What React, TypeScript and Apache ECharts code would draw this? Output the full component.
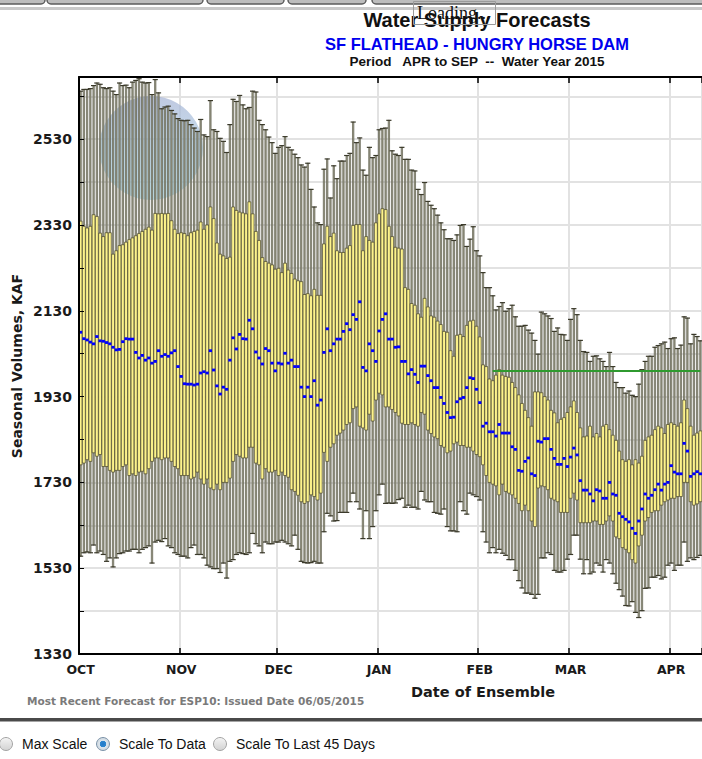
import React, { useEffect, useRef } from "react";
import * as echarts from "echarts";

// ---------- categories (one ensemble per day, Oct 1 2014 .. Apr 10 2015) ----------
const firstDayUTC = Date.UTC(2014, 9, 1);
const dayCount = 192;
const dates: string[] = [];
for (let i = 0; i < dayCount; i++) {
  dates.push(new Date(firstDayUTC + i * 86400000).toISOString().slice(0, 10));
}
const monthNames = ["JAN", "FEB", "MAR", "APR", "MAY", "JUN", "JUL", "AUG", "SEP", "OCT", "NOV", "DEC"];

// ---------- series values (KAF) ----------
const whiskerHigh = [
  2642, 2646, 2646, 2648, 2655, 2661, 2658, 2650, 2648, 2650,
  2642, 2634, 2661, 2655, 2656, 2650, 2663, 2667, 2671, 2663,
  2661, 2662, 2634, 2669, 2638, 2601, 2605, 2607, 2597, 2589,
  2578, 2574, 2573, 2574, 2564, 2556, 2548, 2576, 2540, 2536,
  2620, 2552, 2548, 2532, 2525, 2499, 2564, 2623,
  2618, 2632, 2610, 2601, 2604, 2642, 2640, 2574, 2564, 2552,
  2535, 2522, 2497, 2511, 2515, 2536, 2511, 2505, 2495, 2487,
  2470, 2465, 2474, 2413, 2372, 2335, 2331, 2460, 2484, 2393,
  2468, 2438, 2479, 2479, 2492, 2497, 2570, 2522, 2533, 2458,
  2446, 2511, 2487, 2492, 2552, 2555, 2556, 2574,
  2503, 2495, 2492, 2511, 2483, 2483, 2458, 2456, 2413, 2401,
  2429, 2385, 2376, 2368, 2353, 2335, 2319, 2298, 2298, 2294,
  2307, 2329, 2331, 2280, 2297, 2326, 2270, 2258, 2219, 2184,
  2184, 2165, 2132, 2140, 2149, 2129, 2135, 2143, 2116, 2094,
  2094, 2096, 2085, 2078, 2061, 2029, 2127, 2123,
  2118, 2112, 2082, 2090, 2075, 2074, 2061, 2110, 2135, 2121,
  2061, 2035, 2033, 2012, 2024, 2025, 2018, 2012, 2000, 2033,
  2000, 1963, 1951, 1951, 1938, 1943, 1933, 1930, 1959, 1993,
  2012, 2024, 2024, 2045, 2049, 2053, 2057, 2042, 2065, 2067,
  2042, 2050, 2116, 2113, 2053, 2075, 2070, 2060,
];

const whiskerLow = [
  1558, 1566, 1568, 1566, 1584, 1566, 1570, 1562, 1546, 1554,
  1533, 1554, 1564, 1566, 1570, 1570, 1574, 1574, 1566, 1574,
  1578, 1582, 1542, 1591, 1595, 1592, 1599, 1582, 1578, 1566,
  1562, 1558, 1558, 1554, 1578, 1584, 1562, 1562, 1554, 1537,
  1533, 1529, 1529, 1520, 1542, 1507, 1546, 1550,
  1562, 1566, 1564, 1562, 1566, 1611, 1587, 1582, 1566, 1591,
  1587, 1587, 1591, 1591, 1595, 1591, 1587, 1582, 1607, 1574,
  1546, 1543, 1542, 1543, 1546, 1542, 1542, 1615, 1658, 1652,
  1640, 1641, 1660, 1660, 1660, 1685, 1705, 1685, 1668, 1599,
  1664, 1599, 1627, 1664, 1701, 1726, 1681, 1682,
  1681, 1682, 1690, 1693, 1672, 1677, 1672, 1672, 1668, 1709,
  1689, 1685, 1685, 1660, 1658, 1656, 1668, 1627, 1617, 1617,
  1615, 1685, 1664, 1656, 1705, 1701, 1697, 1689, 1615, 1591,
  1566, 1578, 1566, 1574, 1565, 1560, 1550, 1550, 1525, 1501,
  1484, 1472, 1472, 1469, 1460, 1469, 1554, 1554,
  1566, 1562, 1525, 1521, 1521, 1525, 1551, 1562, 1607, 1607,
  1551, 1517, 1550, 1517, 1521, 1542, 1537, 1521, 1550, 1542,
  1517, 1495, 1480, 1465, 1443, 1442, 1452, 1427, 1415, 1431,
  1483, 1484, 1509, 1509, 1513, 1505, 1509, 1537, 1542, 1525,
  1537, 1537, 1591, 1546, 1554, 1550, 1555, 1560,
];

const boxHigh = [
  2339, 2327, 2323, 2327, 2354, 2350, 2311, 2303, 2312, 2312,
  2262, 2270, 2282, 2284, 2290, 2296, 2300, 2305, 2310, 2315,
  2320, 2325, 2318, 2357, 2356, 2357, 2356, 2357, 2340, 2320,
  2310, 2312, 2310, 2305, 2312, 2315, 2318, 2337, 2320, 2330,
  2372, 2345, 2288, 2262, 2258, 2252, 2255, 2372,
  2364, 2360, 2358, 2356, 2384, 2356, 2315, 2294, 2254, 2245,
  2241, 2237, 2227, 2229, 2219, 2241, 2225, 2217, 2204, 2200,
  2198, 2168, 2170, 2165, 2180, 2166, 2166, 2286, 2327, 2303,
  2311, 2270, 2266, 2266, 2276, 2282, 2329, 2331, 2331, 2270,
  2303, 2294, 2290, 2335, 2356, 2368, 2366, 2327,
  2303, 2278, 2276, 2274, 2184, 2180, 2147, 2143, 2123, 2115,
  2159, 2139, 2118, 2115, 2106, 2098, 2082, 2080, 2037, 2024,
  2073, 2075, 2070, 2096, 2106, 2108, 2094, 2069, 2004, 2000,
  1971, 1967, 1980, 1993, 1980, 1977, 1975, 1963, 1951, 1934,
  1914, 1898, 1881, 1861, 1941, 1941, 1939, 1930,
  1922, 1898, 1892, 1869, 1877, 1881, 1893, 1906, 1920, 1893,
  1857, 1836, 1838, 1861, 1836, 1844, 1836, 1861, 1865, 1853,
  1840, 1828, 1803, 1783, 1779, 1783, 1771, 1783, 1775, 1791,
  1828, 1836, 1840, 1853, 1861, 1857, 1844, 1865, 1869, 1865,
  1861, 1869, 1922, 1902, 1861, 1840, 1845, 1850,
];

const boxLow = [
  1771, 1775, 1783, 1779, 1799, 1791, 1795, 1767, 1767, 1758,
  1754, 1758, 1758, 1767, 1771, 1746, 1750, 1746, 1754, 1756,
  1750, 1762, 1779, 1787, 1787, 1783, 1787, 1787, 1779, 1767,
  1762, 1746, 1746, 1746, 1738, 1742, 1754, 1738, 1726, 1738,
  1717, 1713, 1726, 1713, 1730, 1730, 1740, 1779,
  1795, 1791, 1787, 1787, 1812, 1812, 1775, 1771, 1738, 1762,
  1754, 1754, 1758, 1746, 1754, 1746, 1742, 1713, 1709, 1700,
  1685, 1681, 1685, 1701, 1697, 1689, 1705, 1800, 1779, 1812,
  1820, 1840, 1845, 1852, 1865, 1869, 1902, 1906, 1861, 1857,
  1852, 1889, 1873, 1922, 1938, 1934, 1906, 1906,
  1900, 1893, 1885, 1868, 1865, 1865, 1869, 1865, 1861, 1893,
  1889, 1852, 1844, 1836, 1832, 1816, 1812, 1799, 1803, 1820,
  1824, 1816, 1816, 1812, 1812, 1803, 1795, 1790, 1771, 1746,
  1730, 1726, 1722, 1701, 1726, 1709, 1705, 1701, 1693, 1681,
  1664, 1677, 1664, 1640, 1627, 1717, 1722, 1720,
  1713, 1693, 1689, 1685, 1660, 1660, 1660, 1693, 1705, 1689,
  1636, 1636, 1636, 1636, 1640, 1640, 1632, 1632, 1640, 1652,
  1640, 1603, 1599, 1578, 1574, 1566, 1550, 1542, 1582, 1607,
  1640, 1648, 1660, 1664, 1664, 1677, 1685, 1689, 1693, 1693,
  1697, 1697, 1730, 1730, 1685, 1677, 1680, 1685,
];

const median = [
  2080, 2065, 2062, 2057, 2053, 2070, 2060, 2059, 2056, 2053,
  2045, 2039, 2040, 2058, 2065, 2064, 2064, 2033, 2020, 2026,
  2015, 2020, 2008, 2012, 2037, 2024, 2028, 2024, 2032, 2037,
  2000, 1977, 1960, 1959, 1959, 1957, 1959, 1985, 1988, 1985,
  2037, 1992, 1955, 1936, 1952, 1947, 2015, 2067,
  2041, 2075, 2065, 2064, 2108, 2088, 2034, 2020, 2006, 2042,
  2037, 2008, 1990, 2008, 2006, 2031, 2008, 2015, 2000, 2000,
  1952, 1930, 1952, 1930, 1967, 1910, 1922, 2033, 2088, 2037,
  2053, 2064, 2064, 2082, 2100, 2086, 2121, 2110, 2151, 1998,
  1990, 2053, 2037, 2012, 2083, 2110, 2123, 2064,
  2064, 2045, 2046, 2012, 2012, 1983, 1993, 1982, 1963, 2001,
  2001, 1979, 1967, 1951, 1951, 1928, 1914, 1893, 1881, 1882,
  1918, 1925, 1928, 1951, 1974, 1972, 1947, 1916, 1861, 1868,
  1848, 1848, 1838, 1865, 1845, 1845, 1845, 1813, 1807, 1758,
  1756, 1779, 1787, 1750, 1746, 1826, 1824, 1832,
  1832, 1807, 1786, 1772, 1772, 1786, 1767, 1789, 1810, 1794,
  1734, 1712, 1712, 1703, 1687, 1713, 1710, 1693, 1693, 1730,
  1703, 1700, 1658, 1650, 1644, 1638, 1623, 1611, 1640, 1668,
  1703, 1693, 1700, 1713, 1726, 1712, 1726, 1730, 1769, 1754,
  1750, 1750, 1821, 1803, 1744, 1750, 1755, 1750,
];

// observed volume line
const observedStart = "2015-02-05";
const observedValue = 1990;

// axis
const yMin = 1330;
const yMax = 2675;
const yStep = 100;
const yLabelStep = 200;

const FONT = "'Liberation Sans', Arial, Helvetica, sans-serif";
const WIDE = "'DejaVu Sans', Verdana, sans-serif";

const isMonthStart = (_i: number, v: string) => typeof v === "string" && v.slice(8, 10) === "01";

export default function App() {
  const ref = useRef<HTMLDivElement>(null);

  useEffect(() => {
    if (!ref.current) return;
    const chart = echarts.init(ref.current, null, { renderer: "svg" });

    const whiskerData = dates.map((_d, i) => [i, whiskerLow[i], whiskerHigh[i]]);
    const boxData = dates.map((_d, i) => [i, boxLow[i], boxHigh[i]]);
    const medianData = dates.map((_d, i) => [i, median[i]]);

    const radios = [
      { cx: 6, label: "Max Scale", checked: false },
      { cx: 103, label: "Scale To Data", checked: true },
      { cx: 220, label: "Scale To Last 45 Days", checked: false },
    ];
    const tabs = [
      [-12, 45],
      [47, 203],
      [207, 284],
      [288, 366],
      [372, 720],
    ];

    const graphics: any[] = [];
    tabs.forEach(([a, b]) => {
      graphics.push({
        type: "rect",
        shape: { x: a, y: -10, width: b - a, height: 14, r: 4 },
        style: { fill: "#bdbdbd", stroke: "#5c5c5c", lineWidth: 1.5 },
        z: 10,
      });
    });
    graphics.push({ type: "rect", shape: { x: 0, y: 7, width: 702, height: 3 }, style: { fill: "#c9c9c9" }, z: 10 });

    // watermark
    graphics.push({
      type: "circle",
      shape: { cx: 151, cy: 148, r: 52 },
      style: {
        fill: new echarts.graphic.LinearGradient(0, 0, 0, 1, [
          { offset: 0, color: "rgba(170,182,214,0.75)" },
          { offset: 0.45, color: "rgba(172,204,228,0.7)" },
          { offset: 1, color: "rgba(180,222,236,0.75)" },
        ]),
      },
      z: 1,
    });

    // titles
    graphics.push({
      type: "text", x: 477, y: 20, z: 20,
      style: { text: "Water Supply Forecasts", font: `bold 20px ${FONT}`, fill: "#111", align: "center", verticalAlign: "middle" },
    });
    graphics.push({
      type: "text", x: 477, y: 44, z: 20,
      style: { text: "SF FLATHEAD - HUNGRY HORSE DAM", font: `bold 16.5px ${FONT}`, fill: "#0000ee", align: "center", verticalAlign: "middle" },
    });
    graphics.push({
      type: "text", x: 477, y: 61, z: 20,
      style: { text: "Period   APR to SEP  --  Water Year 2015", font: `bold 13.5px ${FONT}`, fill: "#111", align: "center", verticalAlign: "middle" },
    });
    graphics.push({
      type: "rect", z: 21,
      shape: { x: 413.5, y: 1.5, width: 82, height: 23 },
      style: { fill: "rgba(255,255,255,0)", stroke: "#9a9a9a", lineWidth: 1 },
    });
    graphics.push({
      type: "text", x: 417, y: 13, z: 22,
      style: { text: "Loading...", font: `18px 'Liberation Serif', 'Times New Roman', serif`, fill: "#111", align: "left", verticalAlign: "middle" },
    });

    // axis names and footnote
    graphics.push({
      type: "text", x: 17, y: 366, rotation: Math.PI / 2, z: 20,
      style: { text: "Seasonal Volumes, KAF", font: `bold 14px ${WIDE}`, fill: "#1a1a1a", align: "center", verticalAlign: "middle" },
    });
    graphics.push({
      type: "text", x: 483, y: 692, z: 20,
      style: { text: "Date of Ensemble", font: `bold 14.5px ${WIDE}`, fill: "#1a1a1a", align: "center", verticalAlign: "middle" },
    });
    graphics.push({
      type: "text", x: 27, y: 701, z: 20,
      style: { text: "Most Recent Forecast for ESP10: Issued Date 06/05/2015", font: `bold 10.5px ${WIDE}`, fill: "#7a7a7a", align: "left", verticalAlign: "middle" },
    });

    graphics.push({ type: "rect", shape: { x: 0, y: 718, width: 702, height: 3.5 }, style: { fill: "#4a4a4a" }, z: 20 });

    radios.forEach((r) => {
      graphics.push({
        type: "circle", z: 20,
        shape: { cx: r.cx, cy: 744, r: 6.5 },
        style: {
          fill: r.checked
            ? new echarts.graphic.RadialGradient(0.5, 0.5, 0.5, [
                { offset: 0, color: "#1f78c8" },
                { offset: 0.45, color: "#2f86cf" },
                { offset: 0.55, color: "#dfe7ee" },
                { offset: 1, color: "#c8d2da" },
              ])
            : new echarts.graphic.LinearGradient(0, 0, 0, 1, [
                { offset: 0, color: "#f4f4f4" },
                { offset: 1, color: "#d2d2d2" },
              ]),
          stroke: r.checked ? "#7d94aa" : "#a4a4a4",
          lineWidth: 1,
        },
      });
      graphics.push({
        type: "text", x: r.cx + 16, y: 744, z: 20,
        style: { text: r.label, font: `14px ${FONT}`, fill: "#111", align: "left", verticalAlign: "middle" },
      });
    });

    const tickLine = { color: "#000", width: 1.5 };
    const option: any = {
      animation: false,
      backgroundColor: "#ffffff",
      grid: { left: 79, top: 77, width: 626, height: 577, show: false, containLabel: false },
      xAxis: [
        {
          type: "category",
          data: dates,
          boundaryGap: true,
          position: "bottom",
          axisLine: { show: false },
          axisTick: { show: false },
          axisLabel: { show: false },
          splitLine: { show: true, interval: isMonthStart, lineStyle: { color: "#e2e2e2", width: 2 } },
        },
        {
          type: "category",
          data: dates,
          boundaryGap: true,
          position: "bottom",
          z: 6,
          axisLine: { show: true, lineStyle: { color: "#000", width: 2 } },
          axisTick: { show: true, inside: true, length: 6, interval: isMonthStart, lineStyle: tickLine },
          axisLabel: {
            interval: isMonthStart,
            formatter: (v: string) => monthNames[parseInt(v.slice(5, 7), 10) - 1],
            color: "#1a1a1a",
            fontWeight: "bold",
            fontSize: 12.5,
            fontFamily: WIDE,
            margin: 9,
          },
          splitLine: { show: false },
        },
        {
          type: "category",
          data: dates,
          boundaryGap: true,
          position: "top",
          z: 6,
          axisLine: { show: true, lineStyle: { color: "#000", width: 2 } },
          axisTick: { show: true, inside: true, length: 6, interval: isMonthStart, lineStyle: tickLine },
          axisLabel: { show: false },
          splitLine: { show: false },
        },
      ],
      yAxis: [
        {
          type: "value",
          min: yMin,
          max: yMax,
          interval: yStep,
          axisLine: { show: false },
          axisTick: { show: false },
          axisLabel: { show: false },
          splitLine: { show: true, lineStyle: { color: "#e2e2e2", width: 2 } },
        },
        {
          type: "value",
          min: yMin,
          max: yMax,
          interval: yStep,
          position: "left",
          z: 6,
          axisLine: { show: true, lineStyle: { color: "#000", width: 2 } },
          axisTick: { show: true, inside: true, length: 5, lineStyle: { color: "#000", width: 1 } },
          axisLabel: {
            formatter: (v: number) => (Math.round(v - yMin) % yLabelStep === 0 && v < yMax ? String(Math.round(v)) : ""),
            color: "#1a1a1a",
            fontWeight: "bold",
            fontSize: 14,
            fontFamily: WIDE,
            margin: 7,
          },
          splitLine: { show: false },
        },
      ],
      graphic: { elements: graphics },
      series: [
        {
          name: "range",
          type: "custom",
          z: 2,
          xAxisIndex: 0,
          yAxisIndex: 0,
          encode: { x: 0, y: [1, 2] },
          data: whiskerData,
          renderItem: (_p: any, api: any) => {
            const i = api.value(0);
            const top = api.coord([i, api.value(2)]);
            const bot = api.coord([i, api.value(1)]);
            const bw = api.size([1, 0])[0];
            const x = top[0];
            const ww = 1.4;
            return {
              type: "group",
              children: [
                {
                  type: "rect",
                  shape: { x: x - ww / 2, y: top[1], width: ww, height: bot[1] - top[1] },
                  style: { fill: "#a3a290", stroke: "#4e4d3a", lineWidth: 0.6 },
                },
                {
                  type: "line",
                  shape: { x1: x - bw * 0.8, y1: top[1], x2: x + bw * 0.8, y2: top[1] },
                  style: { stroke: "#3b3a2b", lineWidth: 1.2 },
                },
                {
                  type: "line",
                  shape: { x1: x - bw * 0.8, y1: bot[1], x2: x + bw * 0.8, y2: bot[1] },
                  style: { stroke: "#3b3a2b", lineWidth: 1.2 },
                },
              ],
            };
          },
        },
        {
          name: "box",
          type: "custom",
          z: 3,
          xAxisIndex: 0,
          yAxisIndex: 0,
          encode: { x: 0, y: [1, 2] },
          data: boxData,
          renderItem: (_p: any, api: any) => {
            const i = api.value(0);
            const top = api.coord([i, api.value(2)]);
            const bot = api.coord([i, api.value(1)]);
            const bw = api.size([1, 0])[0];
            return {
              type: "rect",
              shape: { x: top[0] - bw / 2 + 0.15, y: top[1], width: bw - 0.3, height: bot[1] - top[1] },
              style: { fill: "#fdf38c", stroke: "#46432a", lineWidth: 0.7 },
            };
          },
        },
        {
          name: "median",
          type: "custom",
          z: 4,
          xAxisIndex: 0,
          yAxisIndex: 0,
          encode: { x: 0, y: 1 },
          data: medianData,
          renderItem: (_p: any, api: any) => {
            const c = api.coord([api.value(0), api.value(1)]);
            return {
              type: "rect",
              shape: { x: c[0] - 1.6, y: c[1] - 1.4, width: 3.2, height: 2.8 },
              style: { fill: "#0000ff" },
            };
          },
        },
        {
          name: "observed",
          type: "line",
          z: 5,
          xAxisIndex: 0,
          yAxisIndex: 0,
          data: [],
          symbol: "none",
          markLine: {
            silent: true,
            symbol: ["none", "none"],
            label: { show: false },
            lineStyle: { color: "#2f9a2f", width: 2, type: "solid" },
            data: [[{ coord: [observedStart, observedValue] }, { coord: [dates[dates.length - 1], observedValue] }]],
          },
        },
      ],
    };

    chart.setOption(option);
    return () => chart.dispose();
  }, []);

  return <div ref={ref} style={{ position: "absolute", left: 0, top: 0, width: 702, height: 759 }} />;
}
